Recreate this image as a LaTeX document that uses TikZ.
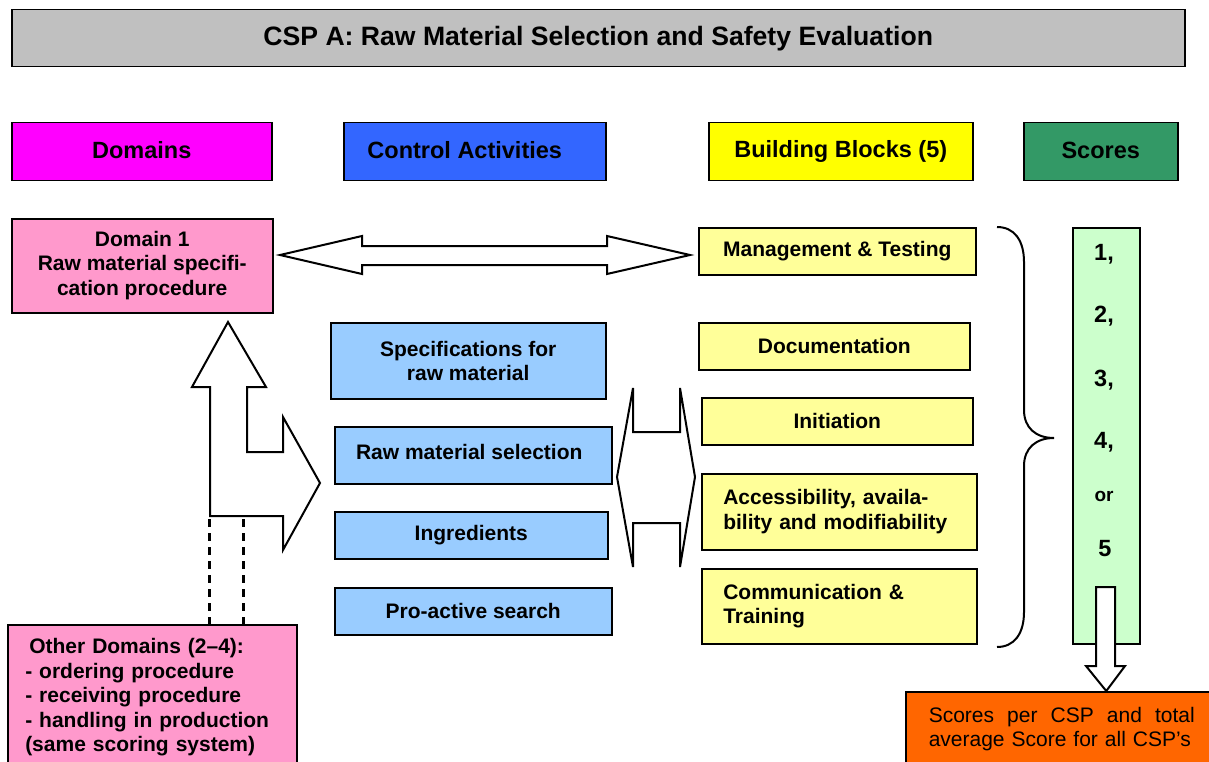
\documentclass[tikz,border=0pt]{standalone}
\usepackage{fontspec}
\setmainfont{Liberation Sans}
\definecolor{titlegray}{HTML}{C0C0C0}
\definecolor{mag}{HTML}{FF00FF}
\definecolor{cblue}{HTML}{3366FF}
\definecolor{byellow}{HTML}{FFFF00}
\definecolor{sgreen}{HTML}{339966}
\definecolor{dpink}{HTML}{FF99CC}
\definecolor{lblue}{HTML}{99CCFF}
\definecolor{lyellow}{HTML}{FFFF99}
\definecolor{lgreen}{HTML}{CCFFCC}
\definecolor{orng}{HTML}{FF6600}
\begin{document}
\begin{tikzpicture}[x=1pt,y=-1pt,
  box/.style={draw, line width=1.5pt, inner sep=0pt, anchor=north west, align=center,
    font=\bfseries\fontsize{21}{24.5}\selectfont},
  hdr/.style={box, minimum height=58pt, font=\bfseries\fontsize{23.5}{26}\selectfont},
  ctl/.style={box, fill=lblue},
  bb/.style={box, fill=lyellow},
  num/.style={inner sep=0pt, font=\bfseries\fontsize{23.5}{26}\selectfont},
  blockarrow/.style={draw, line width=2pt, fill=white, line join=miter},
  dashline/.style={draw, line width=2.8pt, dash pattern=on 8pt off 6pt}]
\useasboundingbox (0,0) rectangle (1209,762);

% title
\node[box, fill=titlegray, minimum width=1173pt, minimum height=57pt,
  font=\bfseries\fontsize{26.6}{30}\selectfont] (title) at (11,9)
  {CSP A: Raw Material Selection and Safety Evaluation};

% headers
\node[hdr, fill=mag, minimum width=260pt] (hdom) at (11,122) {\raisebox{3pt}{Domains}};
\node[hdr, fill=cblue, minimum width=262pt] (hctl) at (343,122) {\raisebox{3pt}{\hspace*{-20pt}Control Activities}};
\node[hdr, fill=byellow, minimum width=264pt] (hbb) at (708,122) {Building Blocks (5)};
\node[hdr, fill=sgreen, minimum width=154pt] (hsc) at (1023,122) {\raisebox{2pt}{Scores}};

% domain 1
\node[box, fill=dpink, minimum width=261pt, minimum height=94pt] (dom1) at (11,218)
  {\raisebox{-2pt}{\begin{tabular}{@{}c@{}}Domain 1\\Raw material specifi-\\cation procedure\end{tabular}}};

% control activities
\node[ctl, minimum width=275pt, minimum height=76pt] (spec) at (330,322) {Specifications for\\raw material};
\node[ctl, minimum width=277pt, minimum height=57pt] (sel) at (334,426) {\raisebox{6pt}{\hspace*{-8pt}Raw material selection}};
\node[ctl, minimum width=273pt, minimum height=47pt] (ingr) at (334,511) {\raisebox{-2pt}{Ingredients}};
\node[ctl, minimum width=277pt, minimum height=47pt] (pro) at (334,587) {Pro-active search};

% building blocks
\node[bb, minimum width=277pt, minimum height=47pt] (mt) at (698,227) {\raisebox{-1pt}{Management \& Testing}};
\node[bb, minimum width=271pt, minimum height=47pt] (doc) at (698,322) {Documentation};
\node[bb, minimum width=271pt, minimum height=47pt] (ini) at (701,397) {Initiation};
\node[bb, minimum width=275pt, minimum height=76pt, text width=232pt, align=left] (acc) at (701,473)
  {Accessibility, availa-\\bility and modifiability};
\node[bb, minimum width=275pt, minimum height=75pt, text width=232pt, align=left] (com) at (701,568)
  {Communication \&\\Training};

% scores column
\node[box, fill=lgreen, minimum width=67pt, minimum height=416pt] (col) at (1072,227) {};
\node[num] (s1) at (1104,254) {1,};
\node[num] (s2) at (1104,316) {2,};
\node[num] (s3) at (1104,380) {3,};
\node[num] (s4) at (1104,442) {4,};
\node[num, font=\bfseries\fontsize{19}{22}\selectfont] (sor) at (1104,496) {or};
\node[num] (s5) at (1105,549) {5};

% other domains
\node[box, fill=dpink, minimum width=289pt, minimum height=145pt, text width=254pt, align=left] (other) at (7,624)
  {\hspace{4pt}Other Domains (2--4):\\- ordering procedure\\- receiving procedure\\- handling in production\\(same scoring system)};

% result box
\node[box, fill=orng, minimum width=312pt, minimum height=75pt, text width=266pt, align=left,
  font=\fontsize{21}{24.5}\selectfont] (res) at (905,691)
  {\hbox to 266pt{Scores\hfill per\hfill CSP\hfill and\hfill total}\\average Score for all CSP’s};

% horizontal double arrow between Domain 1 and Management & Testing
\coordinate (hl) at (280,255);
\coordinate (hr) at (690,255);
\draw[blockarrow] (hl) -- (362,236) -- (362,246) -- (607,246) -- (607,236) -- (hr)
  -- (607,274) -- (607,265) -- (362,265) -- (362,274) -- cycle;

% L-shaped arrow from other domains up to domain 1 and right to control activities
\coordinate (lup) at (228,322);
\coordinate (lright) at (320,483);
\draw[blockarrow] (lup) -- (266,387) -- (247,387) -- (247,452) -- (283,452) -- (283,417)
  -- (lright) -- (283,550) -- (283,516) -- (210,516) -- (210,387) -- (192,387) -- cycle;

% dashed links
\coordinate (d1) at (209.5,519);
\coordinate (d2) at (243.5,519);
\draw[dashline] (d1) -- (d1 |- other.north);
\draw[dashline] (d2) -- (d2 |- other.north);

% vertical double-headed arrow between control activities and building blocks
\coordinate (vl) at (617,477);
\coordinate (vr) at (695,477);
\draw[blockarrow] (vl) -- (633,388) -- (633,432) -- (680,432) -- (680,388) -- (vr)
  -- (680,567) -- (680,523) -- (633,523) -- (633,567) -- cycle;

% brace
\coordinate (btop) at (997,227);
\coordinate (btip) at (1054,438);
\coordinate (bbot) at (997,647);
\draw[line width=2pt] (btop) .. controls (1014,227) and (1024,240) .. (1024,262)
  -- (1024,410) .. controls (1024,428) and (1036,438) .. (btip)
  .. controls (1036,438) and (1024,448) .. (1024,466)
  -- (1024,612) .. controls (1024,634) and (1014,647) .. (bbot);

% down arrow from scores column to result box
\draw[blockarrow] (1096,587) -- (1115,587) -- (1115,666) -- (1125,666) -- (res.north -| col.center)
  -- (1086,666) -- (1096,666) -- cycle;
\end{tikzpicture}
\end{document}
